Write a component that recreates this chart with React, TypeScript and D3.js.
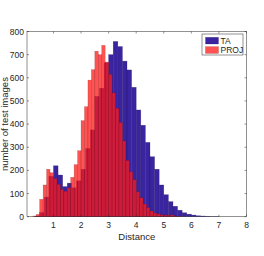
import React from 'react';
import * as d3 from 'd3';

const width = 264;
const height = 256;
const margin = {top: 31.5, right: 17.5, bottom: 39.3, left: 27};
const font = 'Liberation Sans, Arial, Helvetica, sans-serif';
const axisColor = '#262626';
const blue = '#3a24a0';
const red = '#ff1a1a';

// TA histogram: bins of 1/6 starting at 1/3
const taStart = 1 / 3;
const taBinWidth = 1 / 6;
const taCounts = [3, 18, 85, 175, 220, 180, 130, 145, 125, 155, 205, 295, 375, 520, 555, 665,
  700, 757, 735, 672, 634, 559, 461, 395, 321, 259, 205, 137, 95, 65, 45, 28, 17, 11, 7, 4, 3, 2, 1, 1];

// PROJ histogram: bins of 0.125 starting at 0.25
const projStart = 0.25;
const projBinWidth = 0.125;
const projCounts = [3, 10, 75, 137, 205, 190, 165, 140, 118, 110, 125, 170, 225, 285, 415, 475,
  590, 635, 715, 700, 740, 668, 615, 535, 468, 407, 327, 243, 194, 160, 108, 82, 55, 40, 25, 16,
  12, 8, 7, 6, 8, 3, 1];

const xTicks = [1, 2, 3, 4, 5, 6, 7, 8];
const yTicks = [0, 100, 200, 300, 400, 500, 600, 700, 800];
const legendLabels = ['TA', 'PROJ'];

const App = () => {
  const x = d3.scaleLinear().domain([0.04, 8]).range([margin.left, width - margin.right]);
  const y = d3.scaleLinear().domain([0, 800]).range([height - margin.bottom, margin.top]);
  const [x0, x1] = x.range();
  const [y0, y1] = y.range();

  const bars = (counts, start, w) => counts.map((c, i) => {
    const a = start + i * w;
    return {x: x(a), w: x(a + w) - x(a), y: y(c), h: y(0) - y(c)};
  });
  const taBars = bars(taCounts, taStart, taBinWidth);
  const projBars = bars(projCounts, projStart, projBinWidth);

  const lx = 202, ly = 34;

  return (
    <svg width={width} height={height} style={{position: 'absolute', left: 0, top: 0, background: '#fff'}}
      fontFamily={font}>
      <g>
        {taBars.map((b, i) => (
          <rect key={'t' + i} x={b.x} y={b.y} width={b.w} height={b.h} fill={blue}
            stroke="#1a0f50" strokeOpacity={0.45} strokeWidth={0.5}/>
        ))}
      </g>
      <g>
        {projBars.map((b, i) => (
          <rect key={'p' + i} x={b.x} y={b.y} width={b.w} height={b.h} fill={red} fillOpacity={0.75}
            stroke="#600" strokeOpacity={0.35} strokeWidth={0.5}/>
        ))}
      </g>
      {/* axes box */}
      <rect x={x0} y={y1} width={x1 - x0} height={y0 - y1} fill="none" stroke={axisColor} strokeWidth={0.5}/>
      {xTicks.map(t => (
        <g key={'x' + t}>
          <line x1={x(t)} x2={x(t)} y1={y0} y2={y0 - 2} stroke={axisColor} strokeWidth={0.5}/>
          <line x1={x(t)} x2={x(t)} y1={y1} y2={y1 + 2} stroke={axisColor} strokeWidth={0.5}/>
          <text x={x(t)} y={y0 + 11.5} fontSize={8.5} fill={axisColor} textAnchor="middle">{t}</text>
        </g>
      ))}
      {yTicks.map(t => (
        <g key={'y' + t}>
          <line x1={x0} x2={x0 + 2} y1={y(t)} y2={y(t)} stroke={axisColor} strokeWidth={0.5}/>
          <line x1={x1} x2={x1 - 2} y1={y(t)} y2={y(t)} stroke={axisColor} strokeWidth={0.5}/>
          <text x={x0 - 3} y={y(t) + 3} fontSize={8.5} fill={axisColor} textAnchor="end">{t}</text>
        </g>
      ))}
      <text x={(x0 + x1) / 2} y={240} fontSize={9.5} fill={axisColor} textAnchor="middle">Distance</text>
      <text transform={`translate(8, ${(y0 + y1) / 2}) rotate(-90)`} fontSize={9.5} fill={axisColor}
        textAnchor="middle">number of test images</text>
      {/* legend */}
      <rect x={lx} y={ly} width={41} height={21} fill="#fff" stroke={axisColor} strokeWidth={0.5}/>
      {legendLabels.map((l, i) => (
        <g key={l}>
          <rect x={lx + 3.5} y={ly + 3.3 + i * 9.4} width={13} height={6.7}
            fill={i === 0 ? blue : red} fillOpacity={i === 0 ? 1 : 0.75}
            stroke={i === 0 ? '#1a0f50' : '#600'} strokeOpacity={0.4} strokeWidth={0.5}/>
          <text x={lx + 18.5} y={ly + 9.6 + i * 9.4} fontSize={8.5} fill={axisColor}>{l}</text>
        </g>
      ))}
    </svg>
  );
};

export default App;
